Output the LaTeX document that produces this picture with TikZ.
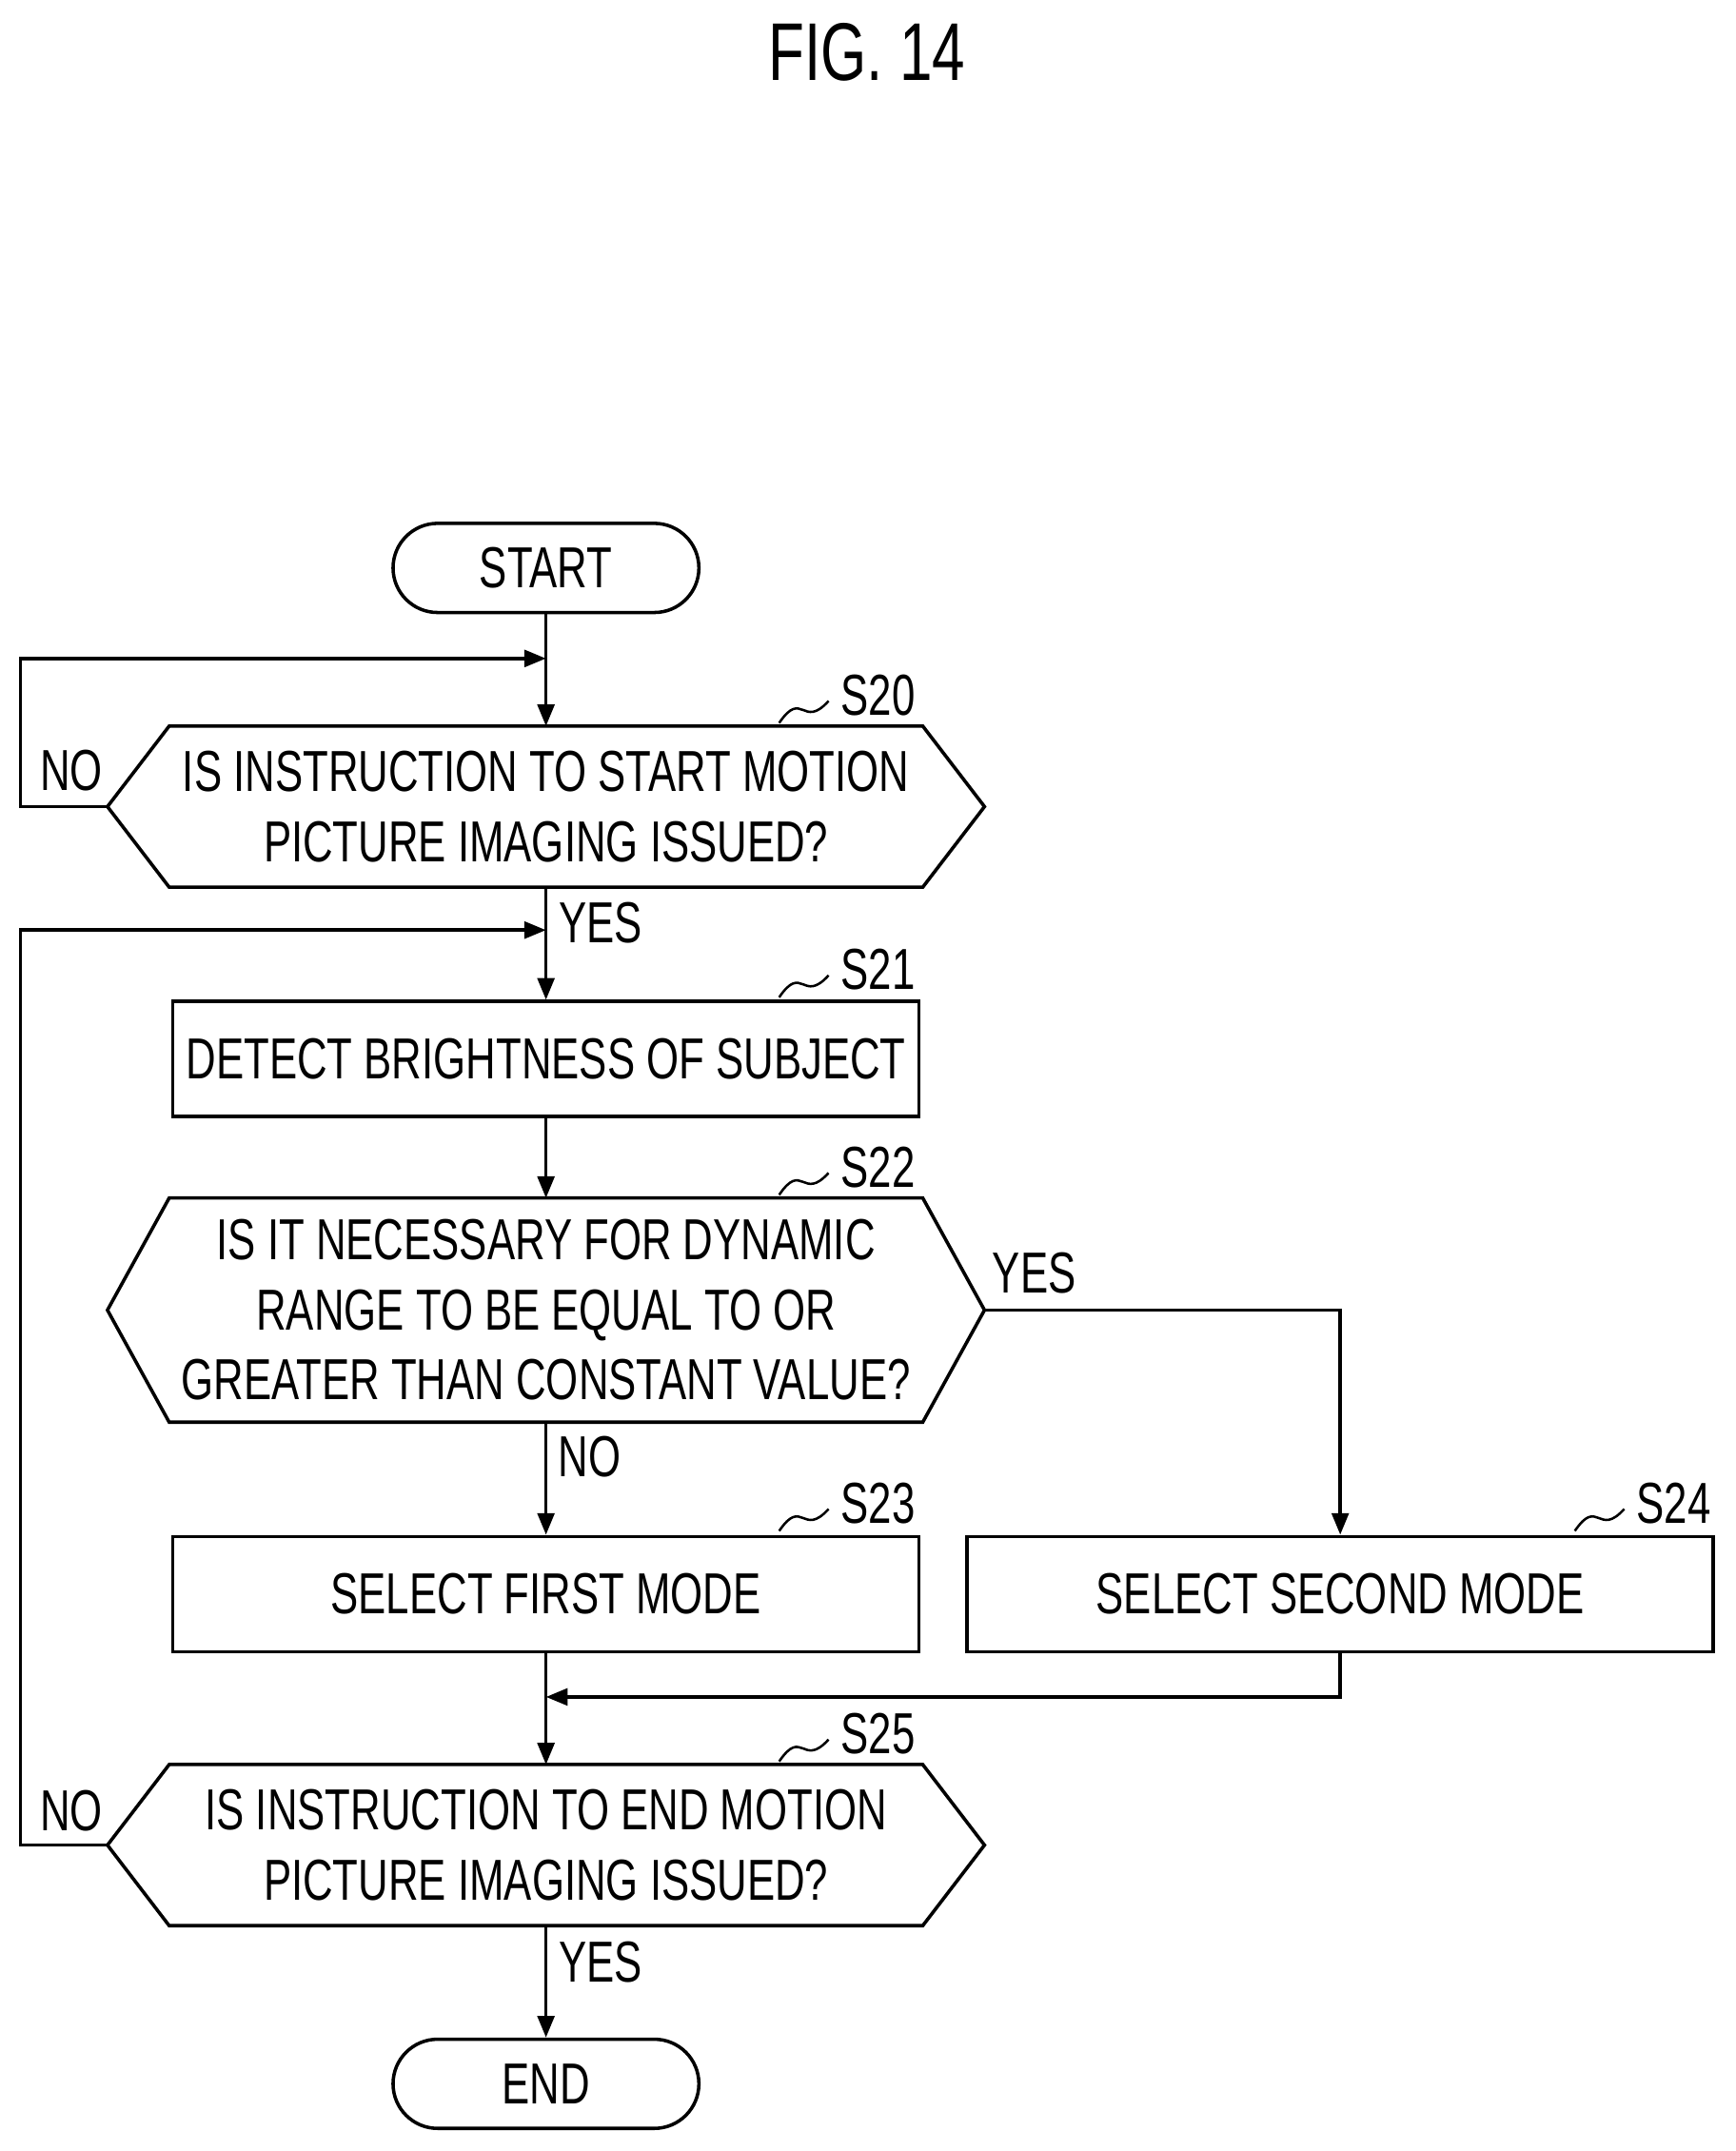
\documentclass[tikz,border=0pt]{standalone}
\usepackage{fontspec}
\setmainfont{Liberation Sans}[FakeStretch=0.72]
\usetikzlibrary{calc,arrows.meta}
\begin{document}
\begin{tikzpicture}[x=0.02cm,y=-0.02cm,line width=1.4pt,
 txt/.style={font=\fontsize{24}{29}\selectfont,align=center,inner sep=0pt},
 box/.style={draw,txt,minimum width=10.88cm,minimum height=1.68cm},
 term/.style={draw,txt,rounded corners=0.65cm,minimum width=4.46cm,minimum height=1.3cm},
 hex/.style={txt,minimum width=12.74cm},
 arr/.style={-{Triangle[length=9pt,width=7pt]}},
 lab/.style={txt,anchor=center}]
\useasboundingbox (0,0) rectangle (1265,1568);
\node[font=\fontsize{34}{40}\selectfont] (fig) at (632,38) {FIG. 14};
\node[term] (start) at (398,414) {START};
\node[term] (end) at (398,1519) {END};
\node[hex,minimum height=2.3cm] (s20) at (398,588) {IS INSTRUCTION TO START MOTION\\PICTURE IMAGING ISSUED?};
\node[box] (s21) at (398,772) {DETECT BRIGHTNESS OF SUBJECT};
\node[hex,minimum height=3.22cm] (s22) at (398,955) {IS IT NECESSARY FOR DYNAMIC\\RANGE TO BE EQUAL TO OR\\GREATER THAN CONSTANT VALUE?};
\node[box] (s23) at (398,1162) {SELECT FIRST MODE};
\node[box] (s24) at (977,1162) {SELECT SECOND MODE};
\node[hex,minimum height=2.3cm] (s25) at (398,1345) {IS INSTRUCTION TO END MOTION\\PICTURE IMAGING ISSUED?};
\foreach \n in {s20,s22,s25}{
 \draw (\n.west) -- ($(\n.north west)+(45,0)$) -- ($(\n.north east)+(-45,0)$) -- (\n.east) -- ($(\n.south east)+(-45,0)$) -- ($(\n.south west)+(45,0)$) -- cycle;}
% step labels
\foreach \n/\x/\y in {S20/640/507,S21/640/707,S22/640/851,S23/640/1096,S24/1220/1096,S25/640/1264}{
 \node[lab] (l\n) at (\x,\y) {\n};
 \draw[line width=1pt] (\x-72,\y+20) .. controls (\x-55,\y-5) and (\x-55,\y+25) .. (\x-36,\y+4);}
% connectors
\coordinate (a1) at (398,480);
\coordinate (a2) at (398,678);
\coordinate (j) at (398,1237);
\draw[arr] (start) -- (s20);
\draw[arr] (s20.west) -- (15,588) -- (15,480) -- (a1);
\draw[arr] (s20) -- (s21);
\draw[arr] (s25.west) -- (15,1345) -- (15,678) -- (a2);
\draw[arr] (s21) -- (s22);
\draw[arr] (s22) -- (s23);
\draw[arr] (s22.east) -- (977,955) -- (s24);
\draw[arr] (s23) -- (s25);
\draw[arr] (s24.south) -- (977,1237) -- (j);
\draw[arr] (s25) -- (end);
\node[lab] (n1) at (52,562) {NO};
\node[lab] (y1) at (438,673) {YES};
\node[lab] (y2) at (754,928) {YES};
\node[lab] (n2) at (430,1062) {NO};
\node[lab] (n3) at (52,1320) {NO};
\node[lab] (y3) at (438,1430) {YES};
\end{tikzpicture}
\end{document}
